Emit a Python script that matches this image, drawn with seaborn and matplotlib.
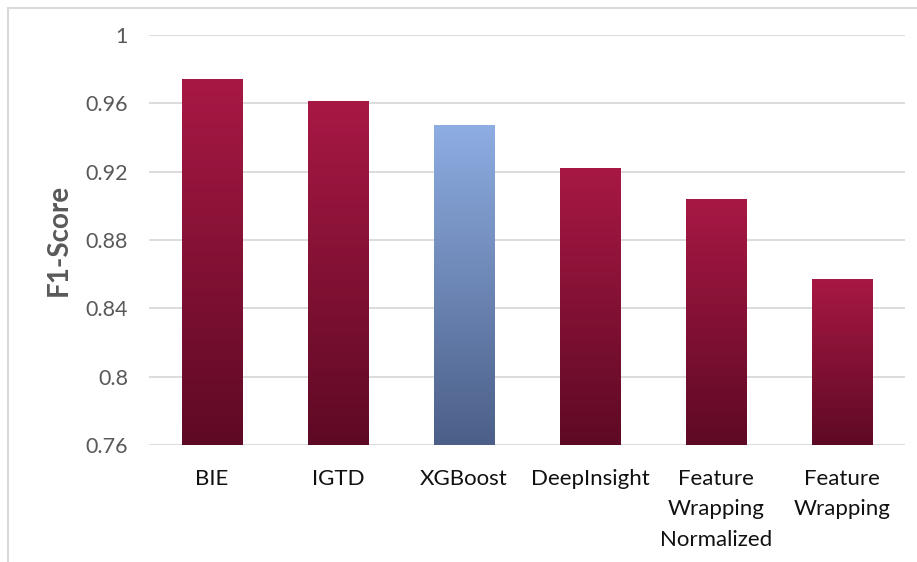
import numpy as np
import pandas as pd
import matplotlib
matplotlib.use("Agg")
import matplotlib.pyplot as plt
from matplotlib.colors import LinearSegmentedColormap
from matplotlib.patches import Rectangle
import seaborn as sns

# F1-scores per method
methods = ["BIE", "IGTD", "XGBoost", "DeepInsight",
           "Feature\nWrapping\nNormalized", "Feature\nWrapping"]
f1_scores = [0.974, 0.961, 0.947, 0.922, 0.904, 0.857]
y_ticks = [0.76, 0.80, 0.84, 0.88, 0.92, 0.96, 1.0]
y_tick_labels = ["0.76", "0.8", "0.84", "0.88", "0.92", "0.96", "1"]

sns.set_theme(style="white")
plt.rcParams["font.family"] = ["Lato", "DejaVu Sans"]

df = pd.DataFrame({"method": methods, "f1": f1_scores})

fig = plt.figure(figsize=(9.17, 5.62), dpi=100)
ax = fig.add_axes([149 / 917, 1 - 445 / 562, (905 - 149) / 917, (445 - 35) / 562])

sns.barplot(data=df, x="method", y="f1", ax=ax, width=0.48,
            color="#A0173F", saturation=1, zorder=2)

ax.set_ylim(0.76, 1.0)
ax.set_yticks(y_ticks)
ax.set_yticklabels(y_tick_labels, color="#595959", fontsize=15.5)
ax.tick_params(axis="y", length=0, pad=15)
ax.tick_params(axis="x", length=0, pad=17)
for lbl in ax.get_xticklabels():
    lbl.set_fontsize(16)
    lbl.set_color("#111111")
    lbl.set_linespacing(1.68)
    lbl.set_verticalalignment("top")

ax.yaxis.grid(True, color="#D9D9D9", linewidth=1.3, zorder=0)
ax.set_axisbelow(True)
for s in ax.spines.values():
    s.set_visible(False)

ax.set_xlabel("")
ax.set_ylabel("F1-Score", fontsize=20, fontweight="bold", color="#595959")
ax.yaxis.set_label_coords((72 - 149) / 756, 0.5)

# vertical gradient fill for each bar
red_cmap = LinearSegmentedColormap.from_list("red_grad", ["#5E0A24", "#A81845"])
blue_cmap = LinearSegmentedColormap.from_list("blue_grad", ["#4B5F88", "#8EADE2"])
grad = np.linspace(0, 1, 256).reshape(-1, 1)
ybot = ax.get_ylim()[0]
for name, patch in zip(methods, ax.patches):
    x0 = patch.get_x()
    w = patch.get_width()
    top = patch.get_y() + patch.get_height()
    cmap = blue_cmap if name == "XGBoost" else red_cmap
    ax.imshow(grad, cmap=cmap, origin="lower", aspect="auto",
              extent=(x0, x0 + w, ybot, top), zorder=2, interpolation="bicubic")
    patch.set_facecolor("none")
    patch.set_edgecolor("none")
ax.set_xlim(-0.5, len(methods) - 0.5)
ax.set_ylim(0.76, 1.0)

# chart frame
fig.patches.append(Rectangle((8 / 917, -0.1), 1.2, 1 - 8 / 562 + 0.1,
                             transform=fig.transFigure, fill=False,
                             edgecolor="#D9D9D9", linewidth=1.5, zorder=0))

fig.savefig("out.png", dpi=100)
